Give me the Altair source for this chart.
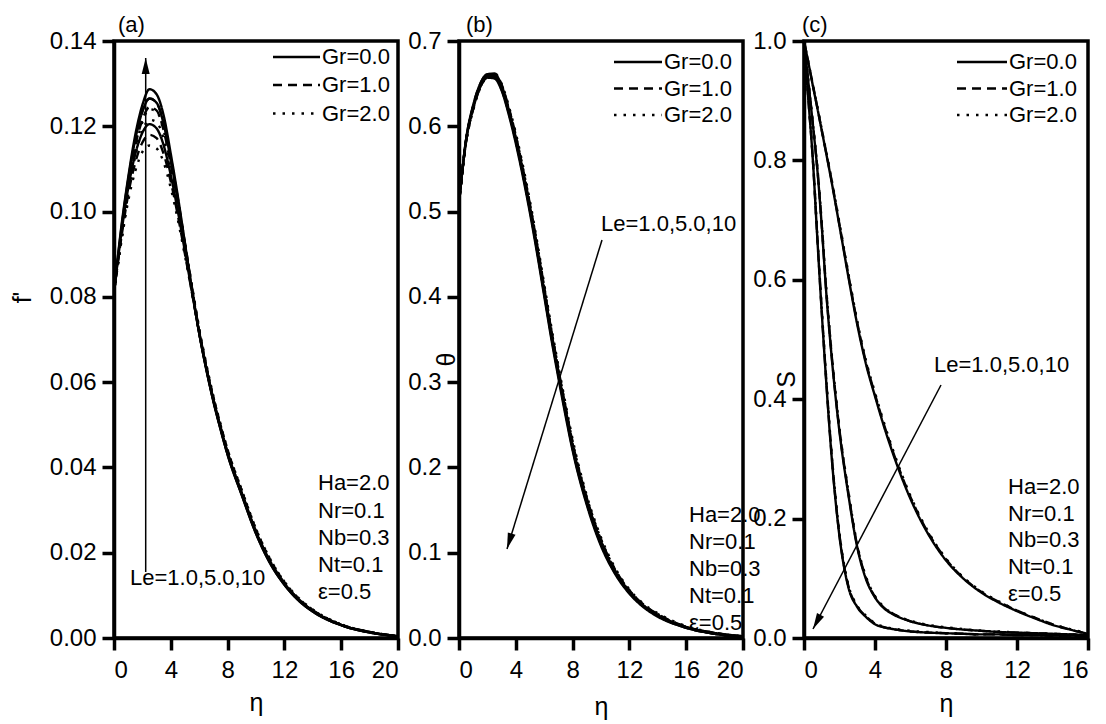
import altair as alt
import pandas as pd

FONT = "Liberation Sans"

# ---------------- data ----------------
GR_LABELS = ["Gr=0.0", "Gr=1.0", "Gr=2.0"]
PARAMS = ["Ha=2.0", "Nr=0.1", "Nb=0.3", "Nt=0.1", "ε=0.5"]
LE_TEXT = "Le=1.0,5.0,10"

ETA_AB = [0, 0.5, 1, 1.5, 2, 2.5, 3, 3.5, 4, 4.5, 5, 5.5, 6, 6.5, 7, 7.5, 8, 9, 10, 11, 12, 13, 14, 16, 18, 20]

# panel (a): f'
FA_LE1_GR0 = [0.081, 0.0945, 0.1055, 0.1135, 0.1185, 0.1205, 0.1195, 0.1155, 0.1085, 0.1, 0.0905, 0.081, 0.0715, 0.0632, 0.0558, 0.0493, 0.0433, 0.0338, 0.0248, 0.0178, 0.0127, 0.009, 0.0064, 0.0031, 0.0014, 0.0004]
FA_LE1_GR1 = [0.081, 0.0935, 0.104, 0.1115, 0.1162, 0.118, 0.1172, 0.1135, 0.107, 0.099, 0.09, 0.0808, 0.0716, 0.0634, 0.056, 0.0495, 0.0436, 0.0341, 0.025, 0.018, 0.0129, 0.0091, 0.0065, 0.0031, 0.0014, 0.0004]
FA_LE1_GR2 = [0.081, 0.0925, 0.1025, 0.1095, 0.114, 0.1155, 0.1148, 0.1115, 0.1055, 0.098, 0.0895, 0.0808, 0.0718, 0.0638, 0.0565, 0.05, 0.0442, 0.0347, 0.0256, 0.0185, 0.0132, 0.0094, 0.0067, 0.0032, 0.0014, 0.0004]
FA_LE5_GR0 = [0.081, 0.0955, 0.1075, 0.117, 0.1235, 0.1265, 0.1255, 0.1205, 0.112, 0.1025, 0.092, 0.0815, 0.0715, 0.063, 0.0555, 0.049, 0.043, 0.0335, 0.0245, 0.0175, 0.0125, 0.0088, 0.0062, 0.003, 0.0013, 0.0004]
FA_LE5_GR1 = [0.081, 0.0945, 0.106, 0.1155, 0.1215, 0.1245, 0.1237, 0.119, 0.111, 0.102, 0.092, 0.0818, 0.0718, 0.0634, 0.0558, 0.0493, 0.0433, 0.0338, 0.0248, 0.0178, 0.0127, 0.009, 0.0063, 0.003, 0.0013, 0.0004]
FA_LE5_GR2 = [0.081, 0.093, 0.104, 0.113, 0.119, 0.1215, 0.121, 0.117, 0.11, 0.1015, 0.092, 0.0822, 0.0724, 0.064, 0.0564, 0.05, 0.044, 0.0345, 0.0254, 0.0183, 0.013, 0.0092, 0.0065, 0.0031, 0.0014, 0.0004]
FA_LE10_GR0 = [0.081, 0.096, 0.108, 0.118, 0.125, 0.1287, 0.1275, 0.1225, 0.1135, 0.1035, 0.0925, 0.0815, 0.0715, 0.063, 0.0555, 0.049, 0.043, 0.0335, 0.0245, 0.0175, 0.0125, 0.0088, 0.0062, 0.003, 0.0013, 0.0004]
FA_LE10_GR1 = [0.081, 0.0945, 0.1065, 0.1165, 0.1235, 0.1265, 0.1255, 0.1208, 0.1125, 0.103, 0.0925, 0.082, 0.072, 0.0635, 0.056, 0.0495, 0.0435, 0.034, 0.025, 0.018, 0.0128, 0.009, 0.0064, 0.0031, 0.0014, 0.0004]
FA_LE10_GR2 = [0.081, 0.093, 0.1045, 0.1145, 0.121, 0.124, 0.1235, 0.119, 0.1115, 0.1025, 0.0925, 0.0825, 0.0727, 0.0642, 0.0567, 0.0502, 0.0442, 0.0347, 0.0256, 0.0185, 0.0132, 0.0093, 0.0066, 0.0032, 0.0014, 0.0004]

# panel (b): theta
TB_LE1_GR0 = [0.51, 0.585, 0.625, 0.65, 0.661, 0.661, 0.648, 0.62, 0.586, 0.547, 0.504, 0.457, 0.407, 0.357, 0.311, 0.267, 0.225, 0.16, 0.112, 0.078, 0.054, 0.038, 0.027, 0.013, 0.006, 0.002]
TB_LE1_GR1 = [0.51, 0.584, 0.624, 0.65, 0.661, 0.662, 0.649, 0.622, 0.589, 0.55, 0.508, 0.461, 0.411, 0.361, 0.315, 0.271, 0.229, 0.164, 0.115, 0.08, 0.056, 0.039, 0.028, 0.013, 0.006, 0.002]
TB_LE1_GR2 = [0.51, 0.583, 0.623, 0.649, 0.661, 0.662, 0.65, 0.624, 0.592, 0.554, 0.512, 0.465, 0.415, 0.365, 0.319, 0.275, 0.233, 0.167, 0.118, 0.082, 0.057, 0.04, 0.029, 0.014, 0.006, 0.002]
TB_LE5_GR0 = [0.51, 0.584, 0.623, 0.648, 0.659, 0.659, 0.645, 0.617, 0.583, 0.544, 0.501, 0.454, 0.404, 0.354, 0.308, 0.264, 0.222, 0.158, 0.11, 0.076, 0.053, 0.037, 0.026, 0.012, 0.005, 0.001]
TB_LE5_GR1 = [0.51, 0.583, 0.622, 0.648, 0.659, 0.66, 0.646, 0.619, 0.586, 0.547, 0.505, 0.458, 0.408, 0.358, 0.312, 0.268, 0.226, 0.162, 0.113, 0.078, 0.055, 0.038, 0.027, 0.013, 0.005, 0.001]
TB_LE5_GR2 = [0.51, 0.582, 0.621, 0.647, 0.659, 0.66, 0.647, 0.621, 0.589, 0.551, 0.509, 0.462, 0.412, 0.362, 0.316, 0.272, 0.23, 0.165, 0.116, 0.08, 0.056, 0.039, 0.028, 0.013, 0.006, 0.001]
TB_LE10_GR0 = [0.51, 0.583, 0.621, 0.646, 0.657, 0.656, 0.642, 0.614, 0.58, 0.541, 0.498, 0.451, 0.401, 0.351, 0.305, 0.261, 0.22, 0.156, 0.108, 0.075, 0.052, 0.036, 0.025, 0.012, 0.005, 0.001]
TB_LE10_GR1 = [0.51, 0.582, 0.62, 0.646, 0.657, 0.657, 0.643, 0.616, 0.583, 0.544, 0.502, 0.455, 0.405, 0.355, 0.309, 0.265, 0.224, 0.16, 0.111, 0.077, 0.054, 0.037, 0.026, 0.012, 0.005, 0.001]
TB_LE10_GR2 = [0.51, 0.581, 0.619, 0.645, 0.657, 0.657, 0.644, 0.618, 0.586, 0.548, 0.506, 0.459, 0.409, 0.359, 0.313, 0.269, 0.228, 0.163, 0.114, 0.079, 0.055, 0.038, 0.027, 0.013, 0.005, 0.001]

# panel (c): S
ETA_C = [0, 0.25, 0.5, 0.75, 1, 1.25, 1.5, 2, 2.5, 3, 3.5, 4, 4.5, 5, 6, 7, 8, 9, 10, 11, 12, 13, 14, 15, 16]
SC_LE1_GR0 = [1.0, 0.963, 0.925, 0.888, 0.85, 0.812, 0.773, 0.69, 0.605, 0.525, 0.458, 0.405, 0.355, 0.31, 0.233, 0.174, 0.13, 0.099, 0.076, 0.059, 0.045, 0.033, 0.022, 0.014, 0.007]
SC_LE1_GR1 = [1.0, 0.963, 0.926, 0.889, 0.851, 0.813, 0.775, 0.692, 0.608, 0.528, 0.461, 0.408, 0.358, 0.313, 0.236, 0.176, 0.132, 0.1, 0.077, 0.06, 0.046, 0.034, 0.023, 0.014, 0.007]
SC_LE1_GR2 = [1.0, 0.964, 0.927, 0.89, 0.852, 0.815, 0.777, 0.695, 0.611, 0.531, 0.464, 0.411, 0.361, 0.316, 0.238, 0.178, 0.133, 0.101, 0.078, 0.061, 0.046, 0.034, 0.023, 0.015, 0.008]
SC_LE5_GR0 = [1.0, 0.93, 0.86, 0.785, 0.69, 0.58, 0.49, 0.345, 0.24, 0.152, 0.098, 0.068, 0.05, 0.04, 0.028, 0.021, 0.017, 0.014, 0.012, 0.01, 0.009, 0.008, 0.007, 0.006, 0.005]
SC_LE5_GR1 = [1.0, 0.931, 0.861, 0.787, 0.692, 0.583, 0.493, 0.348, 0.243, 0.154, 0.1, 0.069, 0.051, 0.041, 0.028, 0.021, 0.017, 0.014, 0.012, 0.01, 0.009, 0.008, 0.007, 0.006, 0.005]
SC_LE5_GR2 = [1.0, 0.932, 0.862, 0.789, 0.695, 0.586, 0.496, 0.351, 0.246, 0.156, 0.102, 0.07, 0.052, 0.041, 0.029, 0.022, 0.018, 0.015, 0.012, 0.011, 0.009, 0.008, 0.007, 0.006, 0.005]
SC_LE10_GR0 = [1.0, 0.9, 0.8, 0.67, 0.545, 0.43, 0.325, 0.17, 0.085, 0.052, 0.035, 0.023, 0.018, 0.015, 0.011, 0.009, 0.008, 0.007, 0.006, 0.006, 0.005, 0.005, 0.004, 0.004, 0.003]
SC_LE10_GR1 = [1.0, 0.901, 0.801, 0.672, 0.548, 0.433, 0.328, 0.172, 0.087, 0.053, 0.036, 0.024, 0.018, 0.015, 0.011, 0.009, 0.008, 0.007, 0.006, 0.006, 0.005, 0.005, 0.004, 0.004, 0.003]
SC_LE10_GR2 = [1.0, 0.902, 0.803, 0.674, 0.551, 0.436, 0.331, 0.175, 0.089, 0.054, 0.037, 0.025, 0.019, 0.016, 0.012, 0.01, 0.008, 0.007, 0.006, 0.006, 0.005, 0.005, 0.004, 0.004, 0.003]

LE_VALUES = ["1.0", "5.0", "10"]
GR_VALUES = ["0.0", "1.0", "2.0"]


def build(eta, table):
    rows = []
    for le, grs in zip(LE_VALUES, table):
        for gr, vals in zip(GR_VALUES, grs):
            for e, v in zip(eta, vals):
                rows.append({"eta": e, "val": v, "Le": le, "Gr": gr, "series": le + "_" + gr})
    return pd.DataFrame(rows)


df_a = build(ETA_AB, [[FA_LE1_GR0, FA_LE1_GR1, FA_LE1_GR2],
                      [FA_LE5_GR0, FA_LE5_GR1, FA_LE5_GR2],
                      [FA_LE10_GR0, FA_LE10_GR1, FA_LE10_GR2]])
df_b = build(ETA_AB, [[TB_LE1_GR0, TB_LE1_GR1, TB_LE1_GR2],
                      [TB_LE5_GR0, TB_LE5_GR1, TB_LE5_GR2],
                      [TB_LE10_GR0, TB_LE10_GR1, TB_LE10_GR2]])
df_c = build(ETA_C, [[SC_LE1_GR0, SC_LE1_GR1, SC_LE1_GR2],
                     [SC_LE5_GR0, SC_LE5_GR1, SC_LE5_GR2],
                     [SC_LE10_GR0, SC_LE10_GR1, SC_LE10_GR2]])

DASHES = [[1, 0], [9, 6], [2.5, 7]]
DUMMY = pd.DataFrame({"k": [0]})
ARROW = "M0,0L-0.5,2L0.5,2Z"
W, H = 284, 597
TXT = 22


def curves(df, xdom, ydom, xvals, yvals, yfmt, ytitle, ytx, yty, xty):
    return alt.Chart(df).mark_line(color="black", strokeWidth=2.4, interpolate="monotone", clip=True).encode(
        x=alt.X("eta:Q", scale=alt.Scale(domain=xdom, nice=False, zero=False),
                axis=alt.Axis(values=xvals, format="d", title="η", titleY=xty,
                              titleBaseline="alphabetic", labelPadding=8)),
        y=alt.Y("val:Q", scale=alt.Scale(domain=ydom, nice=False, zero=False),
                axis=alt.Axis(values=yvals, format=yfmt, title=ytitle, titleX=ytx, titleY=yty,
                              titleAngle=270, titleBaseline="middle", titleAlign="center", labelPadding=6)),
        detail="series:N",
        strokeDash=alt.StrokeDash("Gr:N", scale=alt.Scale(domain=GR_VALUES, range=DASHES), legend=None),
    )


def text(s, x, y, size=TXT, align="left"):
    return alt.Chart(DUMMY).mark_text(text=s, font=FONT, fontSize=size, align=align,
                                      baseline="middle", color="black").encode(
        x=alt.value(x), y=alt.value(y))


def legend(x0, x1, tx, ys):
    layers = []
    for lab, dash, y in zip(GR_LABELS, DASHES, ys):
        layers.append(alt.Chart(DUMMY).mark_rule(color="black", strokeWidth=2.4, strokeDash=dash).encode(
            x=alt.value(x0), x2=alt.value(x1), y=alt.value(y)))
        layers.append(text(lab, tx, y))
    return layers


def params(x, ys):
    return [text(p, x, y) for p, y in zip(PARAMS, ys)]


def arrow(x0, y0, x1, y1, ang):
    rule = alt.Chart(DUMMY).mark_rule(color="black", strokeWidth=1.5).encode(
        x=alt.value(x0), y=alt.value(y0), x2=alt.value(x1), y2=alt.value(y1))
    head = alt.Chart(DUMMY).mark_point(shape=ARROW, filled=True, color="black", size=256,
                                       angle=ang, opacity=1, strokeWidth=0).encode(
        x=alt.value(x1), y=alt.value(y1))
    return [rule, head]


panel_a = alt.layer(
    curves(df_a, [0, 20], [0, 0.14], [0, 4, 8, 12, 16, 20], [0, 0.02, 0.04, 0.06, 0.08, 0.10, 0.12, 0.14],
           ".2f", "f'", -92, 256, 72),
    *legend(159, 206, 208, [16, 44, 72.5]),
    *params(204, [442, 470, 497, 524, 551]),
    *arrow(31.7, 531, 31.7, 17, 0),
    text(LE_TEXT, 16, 537),
    text("(a)", 4, -16),
).properties(width=W, height=H)

panel_b = alt.layer(
    curves(df_b, [0, 20], [0, 0.7], [0, 4, 8, 12, 16, 20], [0, 0.1, 0.2, 0.3, 0.4, 0.5, 0.6, 0.7],
           ".1f", "θ", -13, 318, 76),
    *legend(155, 203, 205, [21, 47.5, 74]),
    *params(230, [474, 501, 528, 555, 582]),
    *arrow(143, 199, 48, 508, 197),
    text(LE_TEXT, 142, 183),
    text("(b)", 7, -16),
).properties(width=W, height=H)

panel_c = alt.layer(
    curves(df_c, [0, 16], [0, 1.0], [0, 4, 8, 12, 16], [0, 0.2, 0.4, 0.6, 0.8, 1.0],
           ".1f", "S", -18, 338, 73),
    *legend(153, 203, 205, [21, 47.5, 74]),
    *params(204, [446, 473, 499, 526, 553]),
    *arrow(137, 344, 9, 588, 208),
    text(LE_TEXT, 130, 324),
    text("(c)", -2, -16),
).properties(width=W, height=H)

chart = alt.hconcat(panel_a, panel_b, panel_c, spacing=61, bounds="flush").properties(
    padding={"left": 0, "top": 4, "right": 2, "bottom": 2}
).configure_view(
    stroke="black", strokeWidth=3.5
).configure_axis(
    domainColor="black", domainWidth=3.5, tickColor="black", tickWidth=3.5, tickSize=12,
    labelFont=FONT, labelFontSize=24, labelColor="black",
    titleFont=FONT, titleFontSize=25, titleFontWeight="normal", titleColor="black", grid=False
)

chart.save("out.html", embed_options={"renderer": "svg", "actions": False})
